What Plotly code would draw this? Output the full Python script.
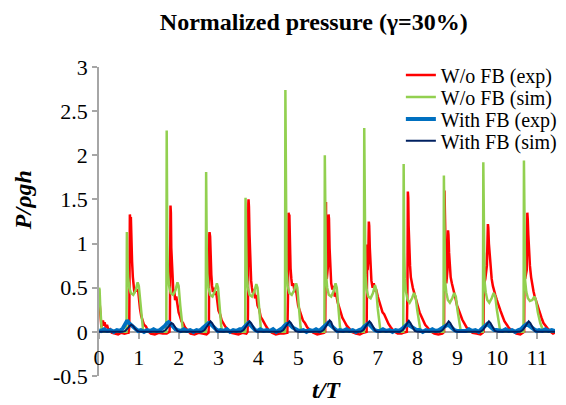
import plotly.graph_objects as go

# W/o FB (exp) -- one row per impact cycle
t_wo_exp = [
    0.00, 0.01, 0.02, 0.04, 0.06, 0.08, 0.10, 0.12, 0.14, 0.17, 0.20, 0.24, 0.28, 0.32, 0.40, 0.48, 0.56, 0.64, 0.72,
    0.74, 0.76, 0.77, 0.775, 0.785, 0.80, 0.81, 0.83, 0.85, 0.87, 0.89, 0.92, 0.95, 0.98, 1.00, 1.03, 1.06, 1.09, 1.13, 1.18, 1.23, 1.30, 1.40, 1.50, 1.60, 1.70,
    1.77, 1.78, 1.79, 1.795, 1.805, 1.815, 1.83, 1.85, 1.87, 1.89, 1.91, 1.94, 1.97, 2.00, 2.03, 2.07, 2.11, 2.16, 2.22, 2.30, 2.40, 2.50, 2.60, 2.70,
    2.75, 2.76, 2.77, 2.775, 2.79, 2.80, 2.82, 2.84, 2.86, 2.88, 2.91, 2.94, 2.97, 3.00, 3.04, 3.08, 3.12, 3.17, 3.23, 3.30, 3.40, 3.50, 3.60, 3.70,
    3.73, 3.74, 3.75, 3.755, 3.765, 3.78, 3.80, 3.82, 3.84, 3.86, 3.89, 3.92, 3.95, 3.98, 4.02, 4.06, 4.10, 4.15, 4.20, 4.26, 4.34, 4.44, 4.54, 4.64,
    4.73, 4.745, 4.75, 4.76, 4.77, 4.78, 4.79, 4.81, 4.83, 4.85, 4.88, 4.91, 4.94, 4.97, 5.00, 5.04, 5.08, 5.12, 5.17, 5.23, 5.30, 5.38, 5.48, 5.58, 5.65,
    5.68, 5.695, 5.70, 5.705, 5.72, 5.75, 5.765, 5.775, 5.79, 5.81, 5.83, 5.86, 5.89, 5.92, 5.95, 5.99, 6.03, 6.07, 6.11, 6.16, 6.22, 6.28, 6.35, 6.45, 6.55, 6.64,
    6.72, 6.735, 6.745, 6.76, 6.775, 6.785, 6.80, 6.82, 6.84, 6.87, 6.90, 6.93, 6.96, 7.00, 7.04, 7.08, 7.12, 7.16, 7.21, 7.27, 7.33, 7.40, 7.50, 7.60, 7.64,
    7.73, 7.745, 7.755, 7.765, 7.775, 7.79, 7.81, 7.83, 7.85, 7.88, 7.91, 7.94, 7.97, 8.01, 8.05, 8.09, 8.14, 8.19, 8.25, 8.32, 8.42, 8.52, 8.62, 8.66,
    8.665, 8.675, 8.685, 8.70, 8.72, 8.75, 8.765, 8.775, 8.79, 8.81, 8.83, 8.86, 8.89, 8.92, 8.95, 8.99, 9.03, 9.07, 9.12, 9.17, 9.23, 9.30, 9.38, 9.48, 9.58, 9.64,
    9.655, 9.665, 9.675, 9.70, 9.74, 9.765, 9.775, 9.79, 9.81, 9.83, 9.86, 9.89, 9.92, 9.95, 9.99, 10.03, 10.08, 10.13, 10.18, 10.24, 10.30, 10.38, 10.48, 10.58, 10.66,
    10.675, 10.685, 10.70, 10.74, 10.755, 10.765, 10.78, 10.80, 10.82, 10.85, 10.88, 10.91, 10.94, 10.98, 11.02, 11.06, 11.11, 11.16, 11.22, 11.28, 11.34, 11.40, 11.45,
]
p_wo_exp = [
    0.35, 0.42, 0.30, 0.12, 0.05, 0.10, 0.13, 0.07, 0.11, 0.05, 0.08, 0.02, 0.03, -0.01, -0.02, -0.03, -0.01, -0.02, -0.01,
    -0.01, 0.05, 1.20, 1.33, 1.28, 1.30, 1.05, 0.80, 0.62, 0.48, 0.44, 0.50, 0.46, 0.48, 0.35, 0.26, 0.18, 0.14, 0.08, 0.06, 0.01, -0.02, -0.03, -0.01, -0.02, -0.02,
    0.00, 0.10, 1.38, 1.43, 1.35, 0.95, 0.75, 0.55, 0.42, 0.48, 0.36, 0.40, 0.30, 0.22, 0.18, 0.12, 0.10, 0.05, 0.02, -0.02, -0.03, -0.01, -0.02, -0.03,
    -0.01, 0.10, 1.10, 1.13, 1.08, 0.85, 0.65, 0.52, 0.45, 0.50, 0.42, 0.46, 0.32, 0.24, 0.20, 0.13, 0.10, 0.06, 0.03, -0.01, -0.02, -0.03, -0.01, -0.02,
    0.00, 0.20, 1.45, 1.50, 1.42, 1.10, 0.80, 0.58, 0.50, 0.44, 0.48, 0.38, 0.42, 0.30, 0.26, 0.17, 0.14, 0.09, 0.06, 0.02, -0.01, -0.03, -0.02, -0.02,
    -0.01, 0.40, 0.90, 1.35, 1.30, 1.33, 1.05, 0.72, 0.60, 0.52, 0.55, 0.45, 0.50, 0.38, 0.30, 0.24, 0.19, 0.13, 0.10, 0.05, 0.02, -0.01, -0.03, -0.02, -0.01,
    0.00, 1.20, 1.47, 0.90, 0.60, 0.75, 1.33, 1.28, 0.95, 0.70, 0.55, 0.48, 0.52, 0.40, 0.44, 0.34, 0.28, 0.22, 0.16, 0.12, 0.07, 0.04, 0.00, -0.02, -0.03, -0.01,
    0.00, 0.99, 0.70, 0.80, 1.25, 1.20, 0.95, 0.72, 0.58, 0.50, 0.55, 0.46, 0.48, 0.40, 0.34, 0.28, 0.22, 0.20, 0.14, 0.09, 0.05, 0.01, -0.02, -0.02, -0.01,
    0.00, 0.50, 1.59, 1.52, 1.20, 0.95, 0.75, 0.62, 0.55, 0.50, 0.45, 0.40, 0.34, 0.28, 0.22, 0.18, 0.12, 0.08, 0.05, 0.01, -0.02, -0.03, -0.02, -0.01,
    0.00, 1.60, 1.20, 0.70, 0.55, 0.70, 1.15, 1.10, 0.90, 0.75, 0.62, 0.55, 0.48, 0.45, 0.38, 0.30, 0.25, 0.20, 0.14, 0.10, 0.05, 0.02, -0.01, -0.02, -0.03, -0.01,
    0.00, 0.90, 0.55, 0.60, 0.75, 1.22, 1.18, 1.00, 0.87, 0.70, 0.60, 0.52, 0.48, 0.42, 0.36, 0.30, 0.24, 0.18, 0.12, 0.08, 0.04, 0.01, -0.02, -0.03, -0.01,
    0.00, 0.80, 0.60, 0.70, 1.35, 1.28, 1.10, 0.90, 0.75, 0.62, 0.52, 0.46, 0.40, 0.34, 0.28, 0.22, 0.16, 0.10, 0.06, 0.03, 0.00, -0.02, -0.01,
]

# W/o FB (sim)
t_wo_sim = [
    0.00, 0.015, 0.03, 0.05, 0.07, 0.69,
    0.70, 0.715, 0.73, 0.76, 0.80, 0.86, 0.92, 0.97, 1.00, 1.04, 1.08, 1.11, 1.69,
    1.70, 1.715, 1.73, 1.76, 1.80, 1.86, 1.92, 1.97, 2.00, 2.04, 2.08, 2.11, 2.68,
    2.69, 2.705, 2.72, 2.75, 2.79, 2.85, 2.91, 2.96, 2.99, 3.03, 3.07, 3.10, 3.67,
    3.68, 3.695, 3.71, 3.74, 3.78, 3.84, 3.90, 3.95, 3.98, 4.02, 4.06, 4.09, 4.67,
    4.68, 4.695, 4.71, 4.74, 4.78, 4.84, 4.90, 4.95, 4.98, 5.02, 5.06, 5.09, 5.66,
    5.67, 5.685, 5.70, 5.73, 5.77, 5.83, 5.89, 5.94, 5.97, 6.01, 6.05, 6.08, 6.65,
    6.66, 6.675, 6.69, 6.72, 6.76, 6.82, 6.88, 6.93, 6.96, 7.00, 7.04, 7.07, 7.64,
    7.65, 7.665, 7.68, 7.71, 7.75, 7.80, 7.86, 7.91, 7.95, 7.99, 8.03, 8.07, 8.10, 8.65,
    8.66, 8.675, 8.69, 8.72, 8.76, 8.81, 8.87, 8.92, 8.96, 9.00, 9.04, 9.08, 9.11, 9.64,
    9.65, 9.665, 9.68, 9.71, 9.75, 9.80, 9.86, 9.91, 9.95, 9.99, 10.03, 10.07, 10.10, 10.66,
    10.67, 10.685, 10.70, 10.73, 10.77, 10.82, 10.88, 10.93, 10.97, 11.02, 11.08, 11.14, 11.20, 11.45,
]
p_wo_sim = [
    0.50, 0.48, 0.30, 0.10, 0.00, 0.00,
    1.13, 0.80, 0.62, 0.50, 0.44, 0.42, 0.47, 0.56, 0.52, 0.30, 0.08, 0.00, 0.00,
    2.28, 1.00, 0.68, 0.52, 0.44, 0.42, 0.47, 0.56, 0.52, 0.30, 0.08, 0.00, 0.00,
    1.81, 0.95, 0.66, 0.50, 0.42, 0.40, 0.46, 0.55, 0.50, 0.28, 0.06, 0.00, 0.00,
    1.52, 0.90, 0.64, 0.50, 0.42, 0.40, 0.46, 0.54, 0.50, 0.28, 0.06, 0.00, 0.00,
    2.74, 1.00, 0.68, 0.52, 0.44, 0.42, 0.47, 0.55, 0.50, 0.28, 0.06, 0.00, 0.00,
    2.00, 0.95, 0.66, 0.50, 0.42, 0.40, 0.46, 0.55, 0.50, 0.28, 0.06, 0.00, 0.00,
    2.31, 0.95, 0.65, 0.48, 0.40, 0.38, 0.44, 0.53, 0.48, 0.26, 0.06, 0.00, 0.00,
    1.90, 0.90, 0.60, 0.45, 0.36, 0.33, 0.38, 0.44, 0.40, 0.25, 0.10, 0.02, 0.00, 0.00,
    1.77, 0.85, 0.58, 0.45, 0.36, 0.33, 0.38, 0.44, 0.40, 0.25, 0.10, 0.02, 0.00, 0.00,
    1.92, 0.85, 0.58, 0.45, 0.36, 0.33, 0.38, 0.44, 0.40, 0.25, 0.10, 0.02, 0.00, 0.00,
    1.94, 0.85, 0.58, 0.45, 0.38, 0.35, 0.36, 0.40, 0.36, 0.22, 0.10, 0.03, 0.00, 0.00,
]

# With FB (exp)
t_fb_exp = [
    0.00, 0.05, 0.13, 0.21, 0.29, 0.37, 0.45, 0.53, 0.60, 0.66, 0.71, 0.75, 0.80, 0.86, 0.92, 0.98,
    1.05, 1.13, 1.21, 1.29, 1.37, 1.45, 1.53, 1.60, 1.66, 1.71, 1.75, 1.80, 1.86, 1.92, 1.98,
    2.05, 2.13, 2.21, 2.29, 2.37, 2.45, 2.53, 2.60, 2.66, 2.71, 2.75, 2.80, 2.86, 2.92, 2.98,
    3.05, 3.13, 3.21, 3.29, 3.37, 3.45, 3.53, 3.60, 3.66, 3.71, 3.75, 3.80, 3.86, 3.92, 3.98,
    4.05, 4.13, 4.21, 4.29, 4.37, 4.45, 4.53, 4.60, 4.66, 4.71, 4.75, 4.80, 4.86, 4.92, 4.98,
    5.05, 5.13, 5.21, 5.29, 5.37, 5.45, 5.53, 5.60, 5.66, 5.71, 5.75, 5.80, 5.86, 5.92, 5.98,
    6.05, 6.13, 6.21, 6.29, 6.37, 6.45, 6.53, 6.60, 6.66, 6.71, 6.75, 6.80, 6.86, 6.92, 6.98,
    7.05, 7.13, 7.21, 7.29, 7.37, 7.45, 7.53, 7.60, 7.66, 7.71, 7.75, 7.80, 7.86, 7.92, 7.98,
    8.05, 8.13, 8.21, 8.29, 8.37, 8.45, 8.53, 8.60, 8.66, 8.71, 8.75, 8.80, 8.86, 8.92, 8.98,
    9.05, 9.13, 9.21, 9.29, 9.37, 9.45, 9.53, 9.60, 9.66, 9.71, 9.75, 9.80, 9.86, 9.92, 9.98,
    10.05, 10.13, 10.21, 10.29, 10.37, 10.45, 10.53, 10.60, 10.66, 10.71, 10.75, 10.80, 10.86, 10.92, 10.98,
    11.05, 11.13, 11.21, 11.29, 11.37, 11.45,
]
p_fb_exp = [
    0.02, 0.01, 0.03, 0.01, 0.02, 0.00, 0.02, 0.01, 0.04, 0.09, 0.13, 0.10, 0.08, 0.05, 0.02, 0.01,
    0.02, 0.00, 0.02, 0.01, 0.03, 0.01, 0.02, 0.04, 0.07, 0.10, 0.11, 0.09, 0.06, 0.03, 0.02,
    0.01, 0.03, 0.01, 0.02, 0.00, 0.02, 0.01, 0.04, 0.07, 0.09, 0.10, 0.09, 0.06, 0.03, 0.01,
    0.02, 0.01, 0.03, 0.00, 0.02, 0.01, 0.03, 0.03, 0.06, 0.09, 0.10, 0.08, 0.05, 0.02, 0.01,
    0.03, 0.01, 0.02, 0.01, 0.03, 0.00, 0.02, 0.04, 0.07, 0.09, 0.09, 0.08, 0.05, 0.03, 0.02,
    0.01, 0.02, 0.00, 0.02, 0.01, 0.03, 0.01, 0.04, 0.06, 0.08, 0.10, 0.08, 0.06, 0.03, 0.01,
    0.02, 0.01, 0.03, 0.01, 0.02, 0.00, 0.02, 0.03, 0.06, 0.08, 0.09, 0.08, 0.05, 0.02, 0.01,
    0.01, 0.03, 0.01, 0.02, 0.00, 0.02, 0.01, 0.03, 0.06, 0.08, 0.09, 0.07, 0.05, 0.03, 0.02,
    0.02, 0.00, 0.02, 0.01, 0.03, 0.01, 0.02, 0.04, 0.06, 0.08, 0.08, 0.07, 0.04, 0.02, 0.01,
    0.01, 0.02, 0.01, 0.03, 0.01, 0.02, 0.00, 0.03, 0.06, 0.08, 0.09, 0.07, 0.05, 0.02, 0.02,
    0.02, 0.01, 0.03, 0.01, 0.02, 0.00, 0.02, 0.03, 0.06, 0.08, 0.09, 0.07, 0.05, 0.03, 0.01,
    0.02, 0.01, 0.03, 0.01, 0.02, 0.01,
]

# With FB (sim)
t_fb_sim = [
    0.00,
    0.59, 0.66, 0.73, 0.78, 0.81, 0.85, 0.90, 0.96, 1.03,
    1.60, 1.67, 1.74, 1.79, 1.82, 1.86, 1.91, 1.97, 2.04,
    2.58, 2.65, 2.72, 2.77, 2.80, 2.84, 2.89, 2.95, 3.02,
    3.56, 3.63, 3.70, 3.75, 3.78, 3.82, 3.87, 3.93, 4.00,
    4.56, 4.63, 4.70, 4.75, 4.78, 4.82, 4.87, 4.93, 5.00,
    5.57, 5.64, 5.71, 5.76, 5.79, 5.83, 5.88, 5.94, 6.01,
    6.57, 6.64, 6.71, 6.76, 6.79, 6.83, 6.88, 6.94, 7.01,
    7.56, 7.63, 7.70, 7.75, 7.78, 7.82, 7.87, 7.93, 8.00,
    8.56, 8.63, 8.70, 8.75, 8.78, 8.82, 8.87, 8.93, 9.00,
    9.57, 9.64, 9.71, 9.76, 9.79, 9.83, 9.88, 9.94, 10.01,
    10.57, 10.64, 10.71, 10.76, 10.79, 10.83, 10.88, 10.94, 11.01, 11.45,
]
p_fb_sim = [
    0.00,
    0.00, 0.01, 0.05, 0.07, 0.08, 0.07, 0.04, 0.01, 0.00,
    0.00, 0.02, 0.06, 0.09, 0.10, 0.09, 0.05, 0.01, 0.00,
    0.00, 0.02, 0.07, 0.11, 0.12, 0.10, 0.05, 0.01, 0.00,
    0.00, 0.02, 0.07, 0.11, 0.12, 0.10, 0.05, 0.01, 0.00,
    0.00, 0.02, 0.07, 0.11, 0.12, 0.10, 0.05, 0.01, 0.00,
    0.00, 0.02, 0.07, 0.12, 0.13, 0.11, 0.05, 0.01, 0.00,
    0.00, 0.02, 0.07, 0.11, 0.12, 0.10, 0.05, 0.01, 0.00,
    0.00, 0.02, 0.07, 0.11, 0.125, 0.10, 0.05, 0.01, 0.00,
    0.00, 0.02, 0.07, 0.11, 0.12, 0.10, 0.05, 0.01, 0.00,
    0.00, 0.02, 0.07, 0.11, 0.12, 0.10, 0.05, 0.01, 0.00,
    0.00, 0.02, 0.07, 0.11, 0.12, 0.10, 0.05, 0.01, 0.00, 0.00,
]

x_ticks = list(range(12))
y_ticks = [-0.5, 0, 0.5, 1, 1.5, 2, 2.5, 3]
y_labels = ["-0.5", "0", "0.5", "1", "1.5", "2", "2.5", "3"]

SERIF = "Liberation Serif"
AXIS_GREY = "#a6a6a6"

series = [
    ("W/o FB (exp)", t_wo_exp, p_wo_exp, "#ff0000", 2.5, "legend"),
    ("W/o FB (sim)", t_wo_sim, p_wo_sim, "#92d050", 2.5, "legend2"),
    ("With FB (exp)", t_fb_exp, p_fb_exp, "#0070c0", 4, "legend3"),
    ("With FB (sim)", t_fb_sim, p_fb_sim, "#002060", 2, "legend4"),
]

fig = go.Figure()
for name, t, p, color, width, leg in series:
    fig.add_trace(go.Scatter(
        x=t, y=p, mode="lines", name=name,
        line=dict(color=color, width=width),
        legend=leg,
    ))

# one legend per entry so the row spacing can follow the original
legend_rows = [0.974, 0.903, 0.832, 0.761]
legend_common = dict(x=0.662, xanchor="left", yanchor="middle",
                     bgcolor="rgba(0,0,0,0)", font=dict(family=SERIF, size=20, color="black"))
fig.update_layout(
    showlegend=True,
    legend=dict(y=legend_rows[0], **legend_common),
    legend2=dict(y=legend_rows[1], **legend_common),
    legend3=dict(y=legend_rows[2], **legend_common),
    legend4=dict(y=legend_rows[3], **legend_common),
)

# the page body adds an 8px offset, so the figure is 8px smaller each way
fig.update_layout(
    width=558, height=397,
    margin=dict(l=91, r=4, t=59, b=29),
    paper_bgcolor="white", plot_bgcolor="white",
    font=dict(family=SERIF, size=22, color="black"),
    title=dict(text="<b>Normalized pressure (γ=30%)</b>", x=0.548, xanchor="center",
               y=0.965, yanchor="middle", font=dict(family=SERIF, size=24, color="black")),
    xaxis=dict(range=[0, 11.45], anchor="free", position=0.5 / 3.5,
               tickvals=x_ticks, ticktext=[str(v) for v in x_ticks],
               tickfont=dict(family=SERIF, size=22, color="black"),
               ticks="outside", ticklen=6, tickcolor=AXIS_GREY, tickwidth=1.5,
               showline=True, linecolor=AXIS_GREY, linewidth=1.5,
               showgrid=False, zeroline=False, layer="below traces"),
    yaxis=dict(range=[-0.5, 3], tickvals=y_ticks, ticktext=y_labels,
               tickfont=dict(family=SERIF, size=22, color="black"),
               ticks="outside", ticklen=5, tickcolor=AXIS_GREY, tickwidth=1.5,
               showline=True, linecolor=AXIS_GREY, linewidth=1.5,
               showgrid=False, zeroline=False, layer="below traces"),
)

fig.add_annotation(text="<b><i>P/ρgh</i></b>", xref="paper", yref="paper",
                   x=-0.166, y=0.57, xanchor="center", yanchor="middle",
                   textangle=-90, showarrow=False,
                   font=dict(family=SERIF, size=24, color="black"))
fig.add_annotation(text="<b><i>t/T</i></b>", xref="paper", yref="paper",
                   x=0.499, y=-0.045, xanchor="center", yanchor="middle",
                   showarrow=False,
                   font=dict(family=SERIF, size=24, color="black"))

fig.write_html("out.html")
